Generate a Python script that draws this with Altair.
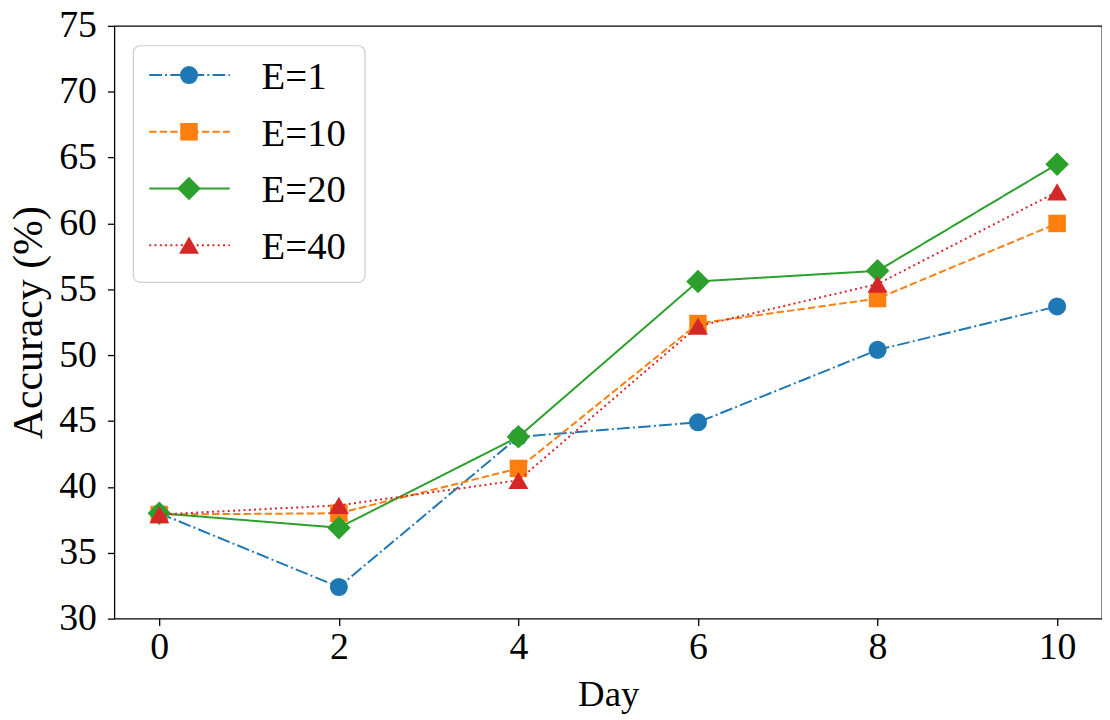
import altair as alt
import pandas as pd

days = [0, 2, 4, 6, 8, 10]
series_names = ["E=1", "E=10", "E=20", "E=40"]
acc_e1 = [38.0, 32.4, 43.8, 44.9, 50.4, 53.7]
acc_e10 = [37.9, 38.0, 41.4, 52.4, 54.3, 60.0]
acc_e20 = [38.0, 36.9, 43.8, 55.6, 56.4, 64.5]
acc_e40 = [37.9, 38.6, 40.5, 52.2, 55.4, 62.4]
y_ticks = [30, 35, 40, 45, 50, 55, 60, 65, 70, 75]
x_ticks = [0, 2, 4, 6, 8, 10]

colors = ["#1f77b4", "#ff7f0e", "#2ca02c", "#d62728"]
shapes = ["circle", "square", "diamond", "triangle-up"]
dashes = [[12.8, 3.2, 2, 3.2], [7.4, 3.2], [1, 0], [2, 3.3]]
sizes = [330, 310, 560, 400]

rows = []
for name, vals in zip(series_names, [acc_e1, acc_e10, acc_e20, acc_e40]):
    for d, v in zip(days, vals):
        rows.append({"day": d, "acc": v, "series": name})
df = pd.DataFrame(rows)
leg_df = pd.DataFrame({"series": series_names})

color_enc = alt.Color("series:N", scale=alt.Scale(domain=series_names, range=colors), legend=None)
dash_enc = alt.StrokeDash("series:N", scale=alt.Scale(domain=series_names, range=dashes), legend=None)
shape_enc = alt.Shape("series:N", scale=alt.Scale(domain=series_names, range=shapes), legend=None)

FONT = "Liberation Serif"

x_enc = alt.X("day:Q", scale=alt.Scale(domain=[-0.5, 10.5], nice=False, zero=False),
              axis=alt.Axis(values=x_ticks, title="Day", labelFontSize=38, titleFontSize=37,
                            labelFont=FONT, titleFont=FONT, labelColor="black", titleColor="black",
                            titleFontWeight="normal",
                            tickSize=7, tickWidth=1.3, tickColor="black", domain=False,
                            labelPadding=3, titleY=87, titleBaseline="alphabetic",
                            labelFlush=False, grid=False, format="d"))
y_enc = alt.Y("acc:Q", scale=alt.Scale(domain=[30, 75], nice=False, zero=False),
              axis=alt.Axis(values=y_ticks, title="Accuracy (%)", labelFontSize=38, titleFontSize=42,
                            labelFont=FONT, titleFont=FONT, labelColor="black", titleColor="black",
                            titleFontWeight="normal",
                            tickSize=7, tickWidth=1.3, tickColor="black", domain=False,
                            labelPadding=11, titleX=-73, titleBaseline="alphabetic",
                            labelFlush=False, grid=False, format="d"))

base = alt.Chart(df)
main_layers = []
for i, name in enumerate(series_names):
    sub = base.transform_filter(alt.datum.series == name)
    main_layers.append(sub.mark_line(strokeWidth=2).encode(x=x_enc, y=y_enc, color=color_enc, strokeDash=dash_enc))
    main_layers.append(sub.mark_point(filled=True, opacity=1, size=sizes[i]).encode(
        x=x_enc, y=y_enc, color=color_enc, shape=shape_enc))
main = alt.layer(*main_layers)

row_y = alt.Y("series:N", scale=alt.Scale(type="point", domain=series_names, range=[49.5, 220.5], padding=0), axis=None)

box = alt.Chart(pd.DataFrame({"a": [0]})).mark_rect(
    fill="white", fillOpacity=0.8, stroke="#cccccc", strokeWidth=1.2, cornerRadius=7
).encode(x=alt.value(19), x2=alt.value(252), y=alt.value(20), y2=alt.value(258))

leg_base = alt.Chart(leg_df)
leg_rule = leg_base.mark_rule(strokeWidth=2).encode(
    x=alt.value(35), x2=alt.value(116), y=row_y, color=color_enc, strokeDash=dash_enc)
leg_pts = []
for i, name in enumerate(series_names):
    leg_pts.append(leg_base.transform_filter(alt.datum.series == name).mark_point(
        filled=True, opacity=1, size=sizes[i]).encode(x=alt.value(75), y=row_y, color=color_enc, shape=shape_enc))
leg_text = leg_base.mark_text(align="left", baseline="alphabetic", dy=14, fontSize=39,
                              font=FONT, color="black").encode(
    x=alt.value(148), y=row_y, text="series:N")

legend = alt.layer(box, leg_rule, *leg_pts, leg_text)

chart = alt.layer(main, legend).resolve_scale(y="independent").properties(
    width=993, height=596,
    autosize=alt.AutoSizeParams(type="none"),
    padding={"left": 107, "top": 16, "right": 0, "bottom": 100},
    background="white",
).configure_view(stroke="black", strokeWidth=1.3)

chart.save("out.html", embed_options={"renderer": "svg", "actions": False})
